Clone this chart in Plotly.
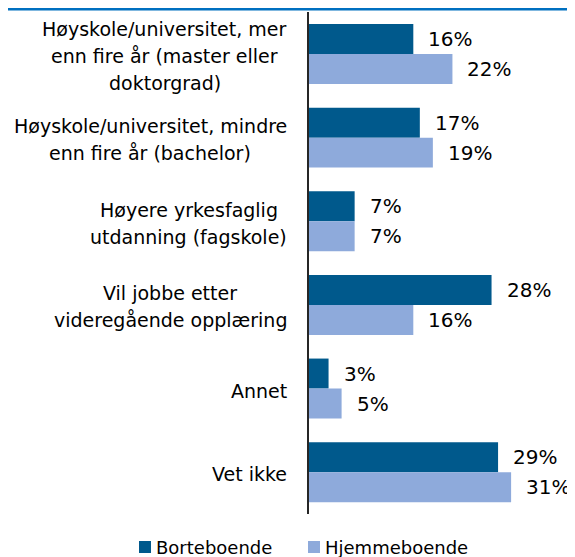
import plotly.graph_objects as go

categories = [
    "Høyskole/universitet, mer<br>enn fire år (master eller<br>doktorgrad)",
    "Høyskole/universitet, mindre<br>enn fire år (bachelor)",
    "Høyere yrkesfaglig<br>utdanning (fagskole)",
    "Vil jobbe etter<br>videregående opplæring",
    "Annet",
    "Vet ikke",
]
borteboende = [16, 17, 7, 28, 3, 29]
hjemmeboende = [22, 19, 7, 16, 5, 31]
series_names = ["Borteboende", "Hjemmeboende"]
colors = ["#00598C", "#8EAADB"]

# The page body has an 8px margin; size the figure so that it fits the window.
OFF = 8
W, H = 575 - OFF, 557 - OFF
L, T, B, R = 309 - OFF, 12 - OFF, 43, 0
FONT = "DejaVu Sans"
LABEL_SIZE = 19
pw = W - L - R
ph = H - T - B

# approximate DejaVu Sans advance widths (em), used to centre wrapped label lines
_CW = {"a": .613, "b": .635, "c": .550, "d": .635, "e": .615, "f": .352, "g": .635,
       "h": .634, "i": .278, "j": .278, "k": .579, "l": .278, "m": .974, "n": .634,
       "o": .612, "p": .635, "r": .411, "s": .521, "t": .392, "u": .634, "v": .592,
       "y": .592, "å": .613, "æ": .995, "ø": .612, "H": .752, "V": .684, "A": .684,
       ",": .318, " ": .318, "/": .337, "(": .390, ")": .390}


def text_w(s, size):
    return sum(_CW.get(ch, .6) for ch in s) * size


def px_x(px):  # screen pixel -> paper
    return (px - OFF - L) / pw


def px_y(py):
    return (H - B - (py - OFF)) / ph


fig = go.Figure()
fig.add_trace(go.Bar(y=categories, x=borteboende, orientation="h", name=series_names[0],
                     marker=dict(color=colors[0], line=dict(width=0))))
fig.add_trace(go.Bar(y=categories, x=hjemmeboende, orientation="h", name=series_names[1],
                     marker=dict(color=colors[1], line=dict(width=0))))

ann = []
for c, v in zip(categories, borteboende):
    ann.append(dict(x=v, y=c, xref="x", yref="y", text=f"{v}%", showarrow=False,
                    xanchor="left", xshift=13, yshift=15, font=dict(size=20, color="#000")))
for c, v in zip(categories, hjemmeboende):
    ann.append(dict(x=v, y=c, xref="x", yref="y", text=f"{v}%", showarrow=False,
                    xanchor="left", xshift=13, yshift=-15, font=dict(size=20, color="#000")))

LINE_H = 27
for c in categories:
    lines = c.split("<br>")
    n = len(lines)
    widths = [text_w(s, LABEL_SIZE) for s in lines]
    maxw = max(widths)
    for i, (line, w) in enumerate(zip(lines, widths)):
        ann.append(dict(x=0, y=c, xref="paper", yref="y", text=line, showarrow=False,
                        xanchor="right", yanchor="middle",
                        xshift=-20 - (maxw - w) / 2,
                        yshift=((n - 1) / 2 - i) * LINE_H - 2,
                        font=dict(size=LABEL_SIZE, color="#000")))

shapes = [dict(type="rect", xref="paper", yref="paper",
               x0=px_x(0), x1=px_x(600), y0=px_y(OFF + 2.5), y1=px_y(OFF - 2),
               fillcolor="#0070C0", line=dict(width=0))]

legend_sq_px = [139, 308]
for name, col, sx in zip(series_names, colors, legend_sq_px):
    shapes.append(dict(type="rect", xref="paper", yref="paper",
                       x0=px_x(sx), x1=px_x(sx + 12), y0=px_y(553), y1=px_y(541),
                       fillcolor=col, line=dict(width=0)))
    ann.append(dict(x=px_x(sx + 15), y=px_y(547), xref="paper", yref="paper", text=name,
                    showarrow=False, xanchor="left", yanchor="middle",
                    font=dict(size=18, color="#000")))

fig.update_layout(
    width=W, height=H,
    margin=dict(l=L, r=R, t=T, b=B, pad=0, autoexpand=False),
    paper_bgcolor="white", plot_bgcolor="white",
    barmode="group", bargap=0.283, bargroupgap=0,
    font=dict(family=FONT, size=18, color="#000"),
    xaxis=dict(range=[0, 40.8], visible=False, automargin=False),
    yaxis=dict(autorange="reversed", showticklabels=False, ticks="", automargin=False,
               showline=True, linecolor="#262626", linewidth=2, showgrid=False),
    annotations=ann,
    shapes=shapes,
    showlegend=False,
)

fig.write_html("out.html")
